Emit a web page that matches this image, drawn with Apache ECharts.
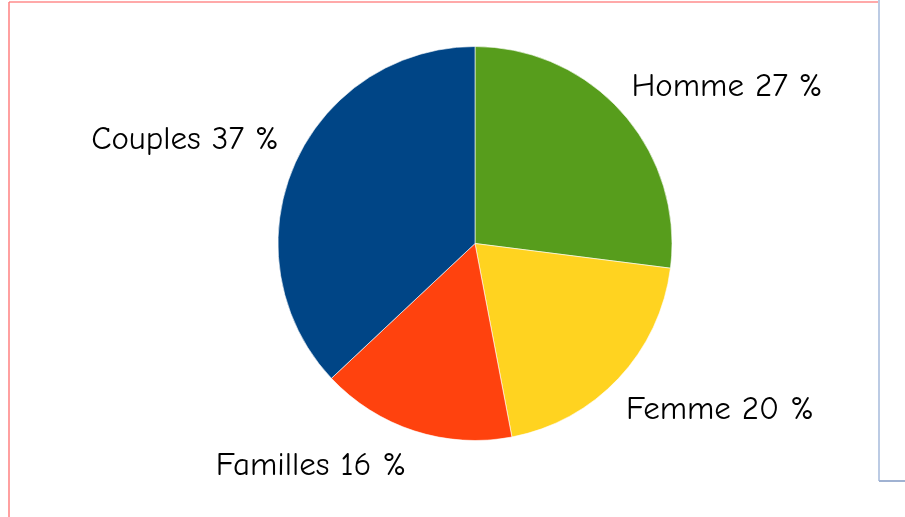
<!DOCTYPE html>
<html>
<head>
<meta charset="utf-8">
<script src="https://cdn.jsdelivr.net/npm/echarts@6/dist/echarts.min.js"></script>
<style>
  html, body { margin: 0; padding: 0; background: #fff; }
  #chart { width: 905px; height: 517px; }
</style>
</head>
<body>
<div id="chart"></div>
<script>
// données du camembert
const categories = ["Homme", "Femme", "Familles", "Couples"];
const values = [27, 20, 16, 37];
const colors = ["#579d1c", "#ffd320", "#ff420e", "#004586"];

// centre des étiquettes (px), dans le même ordre que categories
const labelAnchors = [
  [727, 87],
  [720, 410],
  [311, 466],
  [185, 140],
];

const chart = echarts.init(document.getElementById("chart"), null, { renderer: "canvas" });

const option = {
  backgroundColor: "#ffffff",
  animation: false,
  // cadre de la page (lignes rouge et bleue)
  graphic: [
    { type: "line", shape: { x1: 9, y1: 2, x2: 878, y2: 2 }, style: { stroke: "#ff8c8c", lineWidth: 1.5 } },
    { type: "line", shape: { x1: 9, y1: 2, x2: 9, y2: 517 }, style: { stroke: "#ff8080", lineWidth: 1.5 } },
    { type: "line", shape: { x1: 879, y1: 0, x2: 879, y2: 481 }, style: { stroke: "#bccbe4", lineWidth: 2 } },
    { type: "line", shape: { x1: 879, y1: 481, x2: 905, y2: 481 }, style: { stroke: "#a0b2d2", lineWidth: 2 } },
  ],
  series: [
    {
      type: "pie",
      center: [475, 243.5],
      radius: 197,
      startAngle: 90,
      clockwise: true,
      silent: true,
      itemStyle: {
        borderColor: "#ffffff",
        borderWidth: 0.6,
      },
      label: {
        show: true,
        position: "outside",
        formatter: "{b} {c} %",
        color: "#000000",
        fontSize: 33,
        fontWeight: 500,
        fontFamily: '"Comic Sans MS", "Comic Neue", "Noto Sans", sans-serif',
      },
      labelLine: { show: false },
      labelLayout: function (params) {
        const p = labelAnchors[params.dataIndex];
        return { x: p[0], y: p[1], align: "center", verticalAlign: "middle" };
      },
      data: categories.map((name, i) => ({
        name: name,
        value: values[i],
        itemStyle: { color: colors[i] },
      })),
    },
  ],
};

chart.setOption(option);
</script>
</body>
</html>
